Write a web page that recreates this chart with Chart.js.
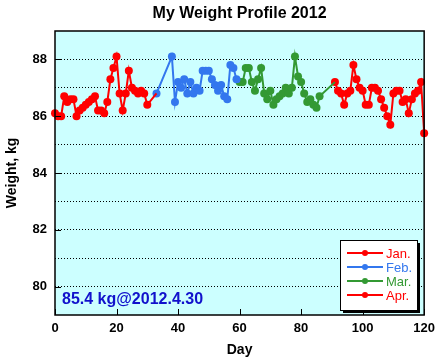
<!DOCTYPE html>
<html>
<head>
<meta charset="utf-8">
<script src="https://cdn.jsdelivr.net/npm/chart.js@4/dist/chart.umd.min.js"></script>
<style>
  html, body { margin: 0; padding: 0; background: #fff; }
</style>
</head>
<body>
<canvas id="weightChart" width="441" height="364"></canvas>
<script>
// day of year (Jan 1 = 0) and weight in kg, one pair of arrays per month
const janDays = [0, 1, 2, 3, 4, 5, 6, 7, 8, 9, 10, 11, 12, 13, 14, 15, 16, 17, 18, 19, 20, 21, 22, 23, 24, 25, 26, 27, 28, 29, 30];
const janKg = [86.1, 86.0, 86.0, 86.7, 86.5, 86.6, 86.6, 86.0, 86.2, 86.3, 86.4, 86.5, 86.6, 86.7, 86.2, 86.2, 86.1, 86.5, 87.3, 87.7, 88.1, 86.8, 86.2, 86.8, 87.6, 87.0, 86.9, 86.8, 86.9, 86.8, 86.4];

const febDays = [33, 38, 39, 40, 41, 42, 43, 44, 45, 46, 47, 48, 49, 50, 51, 52, 53, 54, 55, 56, 57, 58, 59];
const febKg = [86.8, 88.1, 86.5, 87.2, 87.0, 87.3, 86.8, 87.2, 86.8, 87.0, 86.9, 87.6, 87.6, 87.6, 87.3, 87.1, 86.9, 87.1, 86.7, 86.6, 87.8, 87.7, 87.3];

const marDays = [60, 61, 62, 63, 64, 65, 66, 67, 68, 69, 70, 71, 72, 73, 74, 75, 76, 77, 78, 79, 80, 81, 82, 83, 84, 85, 86];
const marKg = [87.2, 87.2, 87.7, 87.7, 87.2, 86.9, 87.3, 87.7, 86.8, 86.6, 86.9, 86.4, 86.6, 86.7, 86.8, 87.0, 86.8, 87.0, 88.1, 87.4, 87.2, 86.8, 86.5, 86.6, 86.4, 86.3, 86.7];

const aprDays = [91, 92, 93, 94, 95, 96, 97, 98, 99, 100, 101, 102, 103, 104, 105, 106, 107, 108, 109, 110, 111, 112, 113, 114, 115, 116, 117, 118, 119, 120];
const aprKg = [87.2, 86.9, 86.8, 86.4, 86.8, 86.9, 87.8, 87.3, 87.0, 86.9, 86.4, 86.4, 87.0, 87.0, 86.9, 86.6, 86.3, 86.0, 85.7, 86.8, 86.9, 86.9, 86.5, 86.6, 86.1, 86.6, 86.8, 86.9, 87.2, 85.4];

const monthNames = ['Jan.', 'Feb.', 'Mar.', 'Apr.'];
const monthColors = ['#ff0000', '#3377ee', '#339933', '#ff0000'];

const yTickLabels = [80, 82, 84, 86, 88];
const xTickLabels = [0, 20, 40, 60, 80, 100, 120];

const latestNote = '85.4 kg@2012.4.30';

const FONT = '"Liberation Sans", Arial, Helvetica, sans-serif';

// each month's line runs on to the first point of the next month
function makeSeries(days, kg, nextDays, nextKg) {
    const pts = days.map((d, i) => ({ x: d, y: kg[i] }));
    const radius = days.map(() => 4);
    if (nextDays) {
        pts.push({ x: nextDays[0], y: nextKg[0] });
        radius.push(0);
    }
    return { pts, radius };
}

const months = [
    makeSeries(janDays, janKg, febDays, febKg),
    makeSeries(febDays, febKg, marDays, marKg),
    makeSeries(marDays, marKg, aprDays, aprKg),
    makeSeries(aprDays, aprKg)
];

const datasets = months.map((m, i) => ({
    label: monthNames[i],
    data: m.pts,
    borderColor: monthColors[i],
    backgroundColor: monthColors[i],
    pointBackgroundColor: monthColors[i],
    pointBorderColor: monthColors[i],
    pointRadius: m.radius,
    pointBorderWidth: 0,
    borderWidth: 2,
    tension: 0,
    clip: 6
}));

const framePlugin = {
    id: 'frame',
    beforeDraw(chart) {
        const { ctx, chartArea: a } = chart;
        ctx.save();
        ctx.fillStyle = '#ccffff';
        ctx.fillRect(a.left, a.top, a.right - a.left, a.bottom - a.top);
        ctx.restore();
    },
    afterDraw(chart) {
        const { ctx, chartArea: a } = chart;
        const xs = chart.scales.x, ys = chart.scales.y;
        ctx.save();

        // title
        ctx.fillStyle = '#000';
        ctx.font = 'bold 16px ' + FONT;
        ctx.textAlign = 'center';
        ctx.textBaseline = 'middle';
        ctx.fillText('My Weight Profile 2012', (a.left + a.right) / 2, 14);

        // inward ticks
        ctx.strokeStyle = '#000';
        ctx.lineWidth = 1;
        ctx.beginPath();
        xTickLabels.forEach(v => {
            const px = Math.round(xs.getPixelForValue(v)) + 0.5;
            ctx.moveTo(px, a.bottom);
            ctx.lineTo(px, a.bottom - 6);
        });
        yTickLabels.forEach(v => {
            const py = Math.round(ys.getPixelForValue(v)) + 0.5;
            ctx.moveTo(a.left, py);
            ctx.lineTo(a.left + 6, py);
        });
        ctx.stroke();

        // note of latest value
        ctx.fillStyle = '#1111cc';
        ctx.font = 'bold 16px ' + FONT;
        ctx.textAlign = 'left';
        ctx.fillText(latestNote, a.left + 7, 300);

        // legend box with shadow
        const bx = 340, by = 240, bw = 77, bh = 70;
        ctx.fillStyle = '#000';
        ctx.fillRect(bx + 3, by + 3, bw, bh);
        ctx.fillStyle = '#fff';
        ctx.fillRect(bx, by, bw, bh);
        ctx.strokeStyle = '#000';
        ctx.strokeRect(bx + 0.5, by + 0.5, bw, bh);
        ctx.font = '13px ' + FONT;
        chart.data.datasets.forEach((ds, i) => {
            const ry = by + 13 + i * 14;
            ctx.strokeStyle = ds.borderColor;
            ctx.lineWidth = 2;
            ctx.beginPath();
            ctx.moveTo(bx + 7, ry);
            ctx.lineTo(bx + 43, ry);
            ctx.stroke();
            ctx.fillStyle = ds.borderColor;
            ctx.beginPath();
            ctx.arc(bx + 25, ry, 3, 0, Math.PI * 2);
            ctx.fill();
            ctx.fillText(ds.label, bx + 46, ry + 1);
        });

        // plot frame
        ctx.strokeStyle = '#000';
        ctx.lineWidth = 1.5;
        ctx.strokeRect(a.left, a.top, a.right - a.left, a.bottom - a.top);
        ctx.restore();
    }
};

new Chart(document.getElementById('weightChart'), {
    type: 'line',
    data: { datasets: datasets },
    options: {
        responsive: false,
        animation: false,
        layout: { padding: { top: 31, right: 16, left: 0, bottom: 0 } },
        plugins: {
            legend: { display: false },
            title: { display: false },
            tooltip: { enabled: false }
        },
        scales: {
            x: {
                type: 'linear',
                min: 0,
                max: 120,
                afterFit: s => { s.height = 49; },
                ticks: {
                    stepSize: 20,
                    padding: 6,
                    color: '#000',
                    font: { family: FONT, size: 13, weight: 'bold' }
                },
                grid: { display: false, drawTicks: false },
                border: { display: false },
                title: {
                    display: true,
                    text: 'Day',
                    color: '#000',
                    font: { family: FONT, size: 14, weight: 'bold' },
                    padding: { top: 0, bottom: 5 }
                }
            },
            y: {
                min: 79,
                max: 89,
                afterFit: s => { s.width = 55; },
                ticks: {
                    stepSize: 1,
                    padding: 8,
                    color: '#000',
                    font: { family: FONT, size: 13, weight: 'bold' },
                    callback: v => yTickLabels.includes(v) ? String(v) : ''
                },
                grid: {
                    drawTicks: false,
                    color: c => (c.tick && (c.tick.value === 79 || c.tick.value === 89)) ? 'rgba(0,0,0,0)' : '#000',
                    lineWidth: 1
                },
                border: { display: false, dash: [1, 2] },
                title: {
                    display: true,
                    text: 'Weight, kg',
                    color: '#000',
                    font: { family: FONT, size: 14, weight: 'bold' },
                    padding: { top: 4, bottom: 0 }
                }
            }
        }
    },
    plugins: [framePlugin]
});
</script>
</body>
</html>
